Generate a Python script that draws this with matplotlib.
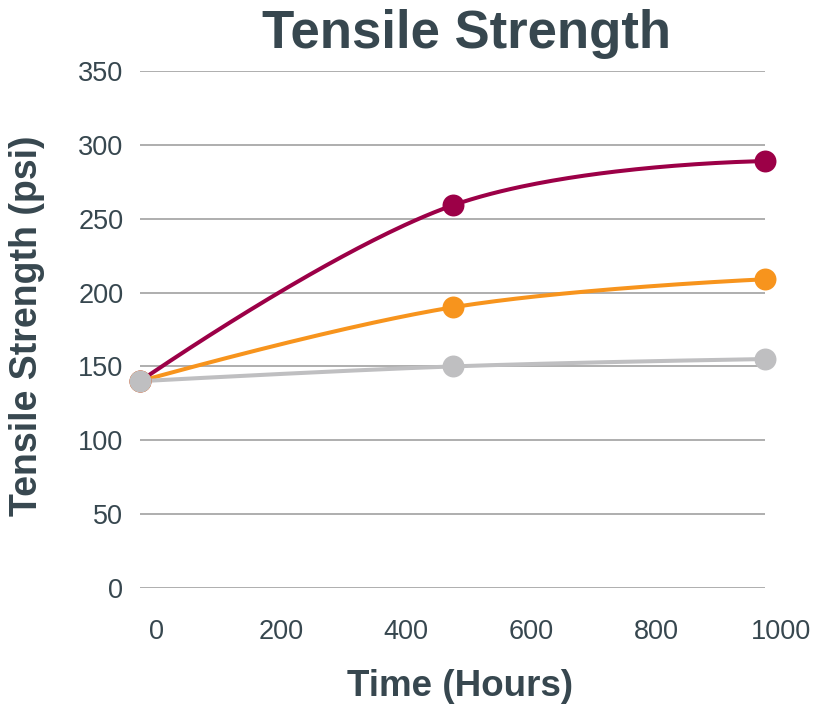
import numpy as np
import matplotlib.pyplot as plt
from matplotlib.transforms import ScaledTranslation

plt.rcParams['font.family'] = ['Liberation Sans', 'DejaVu Sans']

# tensile strength over time for three samples
hours = [0, 500, 1000]
sample_a = [140, 259, 289]
sample_b = [140, 190, 209]
sample_c = [140, 150, 155]
xticks = [0, 200, 400, 600, 800, 1000]
yticks = [0, 50, 100, 150, 200, 250, 300, 350]

series = [
    (sample_a, '#9C0047'),
    (sample_b, '#F7941D'),
    (sample_c, '#BFBFC1'),
]

text_color = '#37474F'


def smooth(x, y, k=0.19, n=80):
    # cubic bezier through the points; inner handles follow the
    # neighbour-to-neighbour direction, end handles are zero length
    p = np.column_stack([x, y]).astype(float)
    d = np.zeros_like(p)
    d[1:-1] = k * (p[2:] - p[:-2])
    t = np.linspace(0, 1, n)[:, None]
    out = []
    for i in range(len(p) - 1):
        a, b = p[i], p[i + 1]
        c1, c2 = a + d[i], b - d[i + 1]
        seg = ((1 - t) ** 3) * a + 3 * ((1 - t) ** 2) * t * c1 \
            + 3 * (1 - t) * t ** 2 * c2 + t ** 3 * b
        out.append(seg)
    out = np.vstack(out)
    return out[:, 0], out[:, 1]


fig = plt.figure(figsize=(8.13, 7.06), dpi=100)
ax = fig.add_axes([140 / 813, 1 - 588 / 706, 625 / 813, 517 / 706])

for vals, color in series:
    sx, sy = smooth(hours, vals)
    ax.plot(sx, sy, color=color, lw=2.9, solid_capstyle='round', clip_on=False, zorder=3)
    ax.plot(hours, vals, 'o', color=color, ms=15.8, mec='none', clip_on=False, zorder=4)

ax.set_xlim(0, 1000)
ax.set_ylim(0, 350)
ax.set_yticks(yticks)
ax.set_xticks(xticks)
ax.grid(axis='y', color='#A8A8A8', lw=1.3)
ax.set_axisbelow(True)
for s in ax.spines.values():
    s.set_visible(False)
ax.tick_params(length=0, labelsize=19.5, labelcolor=text_color)
ax.tick_params(axis='y', pad=12)
ax.tick_params(axis='x', pad=22)

# x tick labels sit a little to the right of their positions
shift = ScaledTranslation(16 / 100, 0, fig.dpi_scale_trans)
for lbl in ax.get_xticklabels():
    lbl.set_transform(lbl.get_transform() + shift)

fig.text(466 / 813, 1 - 48 / 706, 'Tensile Strength', ha='center', va='baseline',
         fontsize=38, fontweight='bold', color=text_color)
fig.text(460 / 813, 1 - 696 / 706, 'Time (Hours)', ha='center', va='baseline',
         fontsize=26.5, fontweight='bold', color=text_color)
fig.text(27 / 813, 1 - 326 / 706, 'Tensile Strength (psi)', ha='center', va='center',
         rotation=90, fontsize=27, fontweight='bold', color=text_color)

fig.savefig('out.png', dpi=100)
